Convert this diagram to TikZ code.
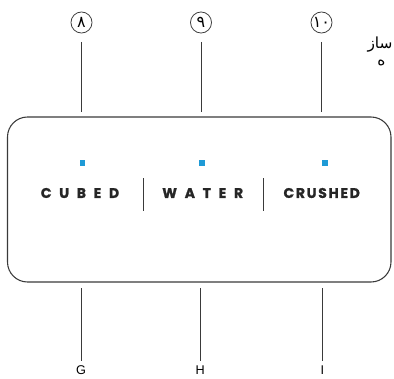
\documentclass[tikz,border=0pt]{standalone}
\usepackage{fontspec}
\setmainfont{Liberation Sans}
\newfontfamily\poppins{Poppins}
\newfontfamily\arabicfont[Script=Arabic]{DejaVu Sans}
\TeXXeTstate=1
\usepackage{tikz}
\tikzset{every picture/.style={line width=0.75pt}}
\definecolor{panelgray}{RGB}{58,58,58}
\definecolor{ledblue}{RGB}{30,154,214}
\tikzset{
  callout/.style={circle, draw=panelgray, line width=0.6pt, inner sep=0pt, minimum size=15.8pt, font=\arabicfont\fontsize{12}{12}\selectfont},
  leader/.style={draw=panelgray, line width=0.6pt},
  led/.style={fill=ledblue, draw=none, minimum size=4.2pt, inner sep=0pt},
  modelabel/.style={font=\poppins\bfseries\fontsize{10.5}{10.5}\selectfont, text=black!85},
  letterlabel/.style={font=\fontsize{9.5}{9.5}\selectfont, text=black},
  notetext/.style={font=\arabicfont\fontsize{11.5}{11.5}\selectfont, inner sep=0pt}
}

\begin{document}
\begin{tikzpicture}[x=0.75pt,y=0.75pt,yscale=-1,xscale=1]
\clip (0,0) rectangle (394,379);
\path[use as bounding box] (0,0) rectangle (394,379);

%Callout circles
\node[callout] (c8) at (81.5,22.5) {\beginR ۸\endR};
\node[callout] (c9) at (201,22.5) {\beginR ۹\endR};
\node[callout] (c10) at (321.5,22.5) {\beginR ۱۰\endR};
\coordinate (t8) at (81.5,112);
\coordinate (t9) at (201,112);
\coordinate (t10) at (321.5,112);
%Straight Lines
\draw[leader] (c8.south) ++(0,8.5) -- (t8);
\draw[leader] (c9.south) ++(0,8.5) -- (t9);
\draw[leader] (c10.south) ++(0,8.5) -- (t10);

%Note on the right edge
\node[notetext, anchor=east] (note1) at (393,45) {\beginR ساز\endR};
\node[notetext, anchor=east] (note2) at (386,63) {\beginR ه\endR};

%Shape: Rounded panel
\draw[draw=panelgray, line width=0.8pt, rounded corners=15pt] (7.5,117) rectangle (391,282);

%Indicator lights
\node[led] (l1) at (82.7,162.7) {};
\node[led] (l2) at (202,162.7) {};
\node[led] (l3) at (325,162.7) {};

%Mode labels
\node[modelabel] (cubed) at (80,193) {\addfontfeature{LetterSpace=55,FakeBold=1.2}CUBED};
\node[modelabel] (water) at (202.7,193) {\addfontfeature{LetterSpace=55,FakeBold=1.2}WATER};
\node[modelabel] (crushed) at (321.7,193) {\addfontfeature{LetterSpace=12,FakeBold=1.2}CRUSHED};
%Separators
\draw[draw=panelgray, line width=1.1pt] (143.3,178) -- (143.3,211);
\draw[draw=panelgray, line width=1.1pt] (263.3,178) -- (263.3,211);

%Bottom leaders
\node[letterlabel] (G) at (81,370) {G};
\node[letterlabel] (H) at (200.3,370) {H};
\node[letterlabel] (I) at (322.3,370) {I};
\coordinate (b8) at (81,288);
\coordinate (b9) at (200.3,288);
\coordinate (b10) at (322.3,288);
\draw[leader] (b8) -- (G.north);
\draw[leader] (b9) -- (H.north);
\draw[leader] (b10) -- (I.north);

\end{tikzpicture}
\end{document}
